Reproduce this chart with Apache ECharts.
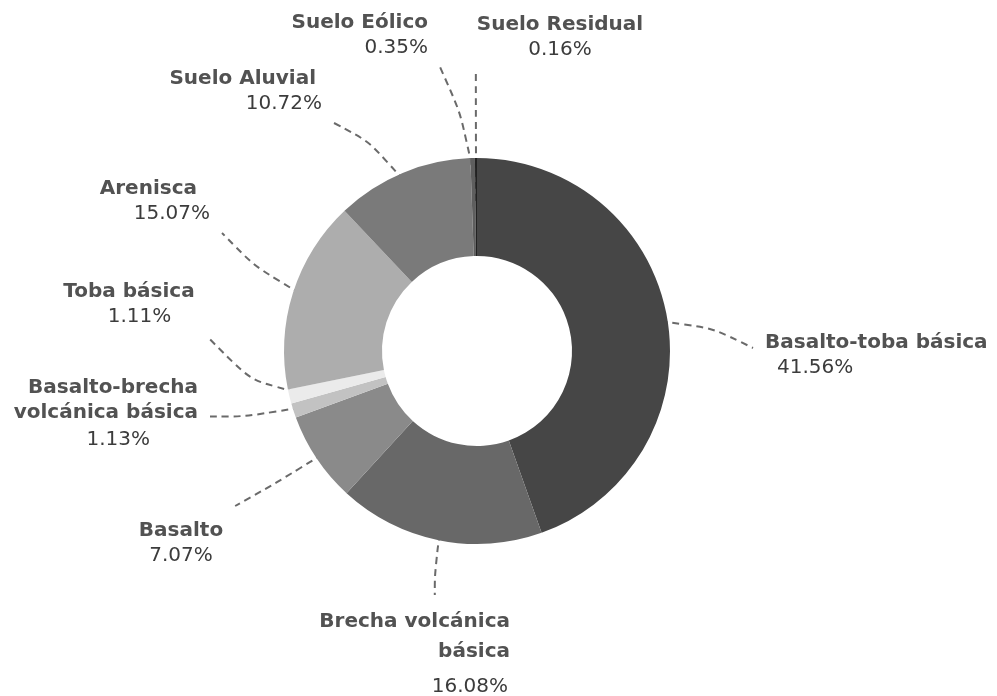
<!DOCTYPE html>
<html>
<head>
<meta charset="utf-8">
<script src="https://cdn.jsdelivr.net/npm/echarts@6/dist/echarts.min.js"></script>
<style>html,body{margin:0;padding:0;background:#fff}#c{width:997px;height:696px}</style>
</head>
<body>
<div id="c"></div>
<script>
// Data
var categories = ['Basalto-toba básica', 'Brecha volcánica básica', 'Basalto', 'Basalto-brecha volcánica básica', 'Toba básica', 'Arenisca', 'Suelo Aluvial', 'Suelo Eólico', 'Suelo Residual'];
var labelNames = ['Basalto-toba básica', 'Brecha volcánica\nbásica', 'Basalto', 'Basalto-brecha\nvolcánica básica', 'Toba básica', 'Arenisca', 'Suelo Aluvial', 'Suelo Eólico', 'Suelo Residual'];
var values = [41.56, 16.08, 7.07, 1.13, 1.11, 15.07, 10.72, 0.35, 0.16];

// Styles / layout (kept separate from data)
var colors = ['#464646', '#686868', '#8a8a8a', '#c2c2c2', '#ebebeb', '#adadad', '#7a7a7a', '#5e5e5e', '#222222'];
var pieCenter = [477, 351];
// [anchorX, topY, align, namePadRight, pctPadLeft, pctPadRight, nameLH, pctLH]
var labelLayoutSpec = [
  [765, 330, 'left', 0, 12, 0, 25, 25],
  [510, 607, 'right', 0, 0, 2, 30, 40],
  [181, 518, 'center', 0, 0, 0, 25, 25],
  [198, 375, 'right', 0, 0, 48, 25, 29],
  [129, 279, 'center', 0, 21, 0, 25, 25],
  [210, 176, 'right', 13, 0, 0, 25, 25],
  [322, 66, 'right', 6, 0, 0, 25, 25],
  [428, 10, 'right', 0, 0, 0, 25, 25],
  [560, 12, 'center', 0, 0, 0, 25, 25]
];

var rich = {};
labelLayoutSpec.forEach(function (s, i) {
  rich['n' + i] = {
    fontFamily: 'DejaVu Sans', fontWeight: 'bold', fontSize: 20, color: '#525252',
    lineHeight: s[6], align: s[2], padding: [0, s[3], 0, 0]
  };
  rich['p' + i] = {
    fontFamily: 'DejaVu Sans', fontWeight: 'normal', fontSize: 20, color: '#3c3c3c',
    lineHeight: s[7], align: s[2], padding: [0, s[5], 0, s[4]]
  };
});

function clamp(v, a, b) { return Math.max(a, Math.min(b, v)); }

var chart = echarts.init(document.getElementById('c'));
chart.setOption({
  animation: false,
  backgroundColor: '#ffffff',
  series: [{
    type: 'pie',
    center: pieCenter,
    radius: [95, 193],
    startAngle: 90,
    clockwise: true,
    avoidLabelOverlap: false,
    data: categories.map(function (c, i) {
      return { name: c, value: values[i], itemStyle: { color: colors[i] } };
    }),
    label: {
      show: true,
      position: 'outside',
      formatter: function (p) {
        var i = p.dataIndex;
        var lines = labelNames[i].split('\n').map(function (t) { return '{n' + i + '|' + t + '}'; });
        return lines.join('\n') + '\n{p' + i + '|' + values[i].toFixed(2) + '%}';
      },
      rich: rich
    },
    labelLine: {
      show: true,
      length: 20,
      length2: 20,
      smooth: 0.5,
      lineStyle: { color: '#6a6a6a', width: 2, type: [7, 5] }
    },
    labelLayout: function (params) {
      var s = labelLayoutSpec[params.dataIndex];
      var out = { x: s[0], y: s[1], align: s[2], verticalAlign: 'top' };
      var lp = params.labelLinePoints;
      var lr = params.labelRect;
      if (lp && lp[0] && lr) {
        var dx = lp[0][0] - pieCenter[0], dy = lp[0][1] - pieCenter[1];
        var d = Math.sqrt(dx * dx + dy * dy) || 1;
        var ux = dx / d, uy = dy / d;
        var p0 = [pieCenter[0] + ux * 150, pieCenter[1] + uy * 150];
        var p1 = [pieCenter[0] + ux * 212, pieCenter[1] + uy * 212];
        var w = lr.width, h = lr.height;
        var left = s[2] === 'left' ? s[0] : (s[2] === 'right' ? s[0] - w : s[0] - w / 2);
        var top = s[1], g = 12;
        var ey = clamp(p1[1], top - g, top + h + g);
        var outside = p1[0] < left || p1[0] > left + w;
        if (outside && p1[1] >= top - 30 && p1[1] < top + 18) { ey = top + 18; }
        var e = [clamp(p1[0], left - g, left + w + g), ey];
        out.labelLinePoints = [p0, p1, e];
      }
      return out;
    }
  }]
});
</script>
</body>
</html>
